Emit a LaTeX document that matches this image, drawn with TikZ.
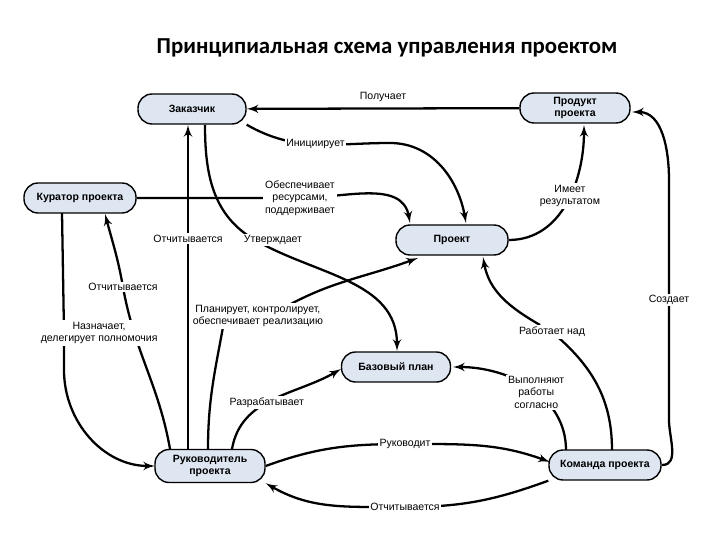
\documentclass[tikz,border=0pt]{standalone}
\usepackage{fontspec}
\setmainfont{Liberation Sans}
\newfontfamily\titlefont{Carlito}
\usetikzlibrary{arrows,positioning}
\definecolor{boxfill}{RGB}{222,230,242}
\begin{document}
\begin{tikzpicture}[x=0.02cm,y=-0.02cm,
semithick ,
state/.style ={draw,thick,rounded corners=8pt,fill=boxfill,font=\fontsize{6}{7}\selectfont\bfseries,
  minimum height=0.6cm,align=center,inner sep=1pt},
edge/.style = {->,> = latex',line width=1.3pt},
lbl/.style = {fill=white,font=\fontsize{6}{7}\selectfont,align=center,inner sep=1pt}]

\useasboundingbox (0,0) rectangle (720,540);

\node[font=\titlefont\bfseries\fontsize{13}{15}\selectfont] (title) at (387,48) {Принципиальная схема управления проектом};

\node[state,minimum width=2.16cm] (zak) at (192,109) {Заказчик};
\node[state,minimum width=2.2cm] (prod) at (575,108) {Продукт\\проекта};
\node[state,minimum width=2.24cm] (kur) at (80,198) {Куратор проекта};
\node[state,minimum width=2.24cm] (proj) at (452,240) {Проект};
\node[state,minimum width=2.18cm] (plan) at (396,367) {Базовый план};
\node[state,minimum width=2.2cm,minimum height=0.66cm] (ruk) at (210,466) {Руководитель\\проекта};
\node[state,minimum width=2.24cm] (kom) at (605,465) {Команда проекта};

\draw[edge] (prod) -- node[lbl,above=2pt]{Получает} (zak);
\draw[edge] (zak.south east) to[out=-30,in=180] node[lbl,pos=0.5]{Инициирует} (390,143) to[out=0,in=100] (466,223);
\draw[edge] (kur) -- (300,198) node[lbl]{Обеспечивает\\ресурсами,\\поддерживает} to[out=0,in=100] (410,223);
\draw[edge] (proj.east) to[out=0,in=-90] node[lbl,pos=0.55]{Имеет\\результатом} (584,125);
\draw[edge] (205,125) to[out=-90,in=150] (255,240) node[lbl,right=-8pt]{Утверждает} to[out=-30,in=90] (397,351);
\draw[edge] (188,449) -- node[lbl,pos=0.65]{Отчитывается} (188,125);
\draw[edge] (170,449) to[out=100,in=-80] (123,287) node[lbl]{Отчитывается} to[out=100,in=-75] (105,214);
\draw[edge] (62,213) -- (64,333) node[lbl,xshift=20pt]{Назначает,\\делегирует полномочия} -- (64,370) to[out=-90,in=180] (155,466);
\draw[edge] (208,449) to[out=90,in=-100] (225,316) node[lbl,right=-20pt]{Планирует, контролирует,\\обеспечивает реализацию} (280,310) to[out=30,in=-160] (418,258);
\draw[edge] (232,449) to[out=80,in=-150] node[lbl,pos=0.45]{Разрабатывает} (341,369);
\draw[edge] (ruk.east) to[out=20,in=180] (405,444) node[lbl]{Руководит} (420,444) to[out=0,in=160] (550,462);
\draw[edge] (kom.south west) to[out=-160,in=0] (405,507) node[lbl]{Отчитывается} (390,507) to[out=180,in=-30] (ruk.south east);
\draw[edge] (566,450) to[out=90,in=0] node[lbl,pos=0.45]{Выполняют\\работы\\согласно} (453,367);
\draw[edge] (612,450) to[out=90,in=-40] (552,332) node[lbl]{Работает над} (540,325) to[out=150,in=-80] (483,257);
\draw[edge] (662,465) to[out=0,in=-90] (669,420) -- node[lbl]{Создает} (669,180) to[out=90,in=0] (632,112);
\end{tikzpicture}
\end{document}
